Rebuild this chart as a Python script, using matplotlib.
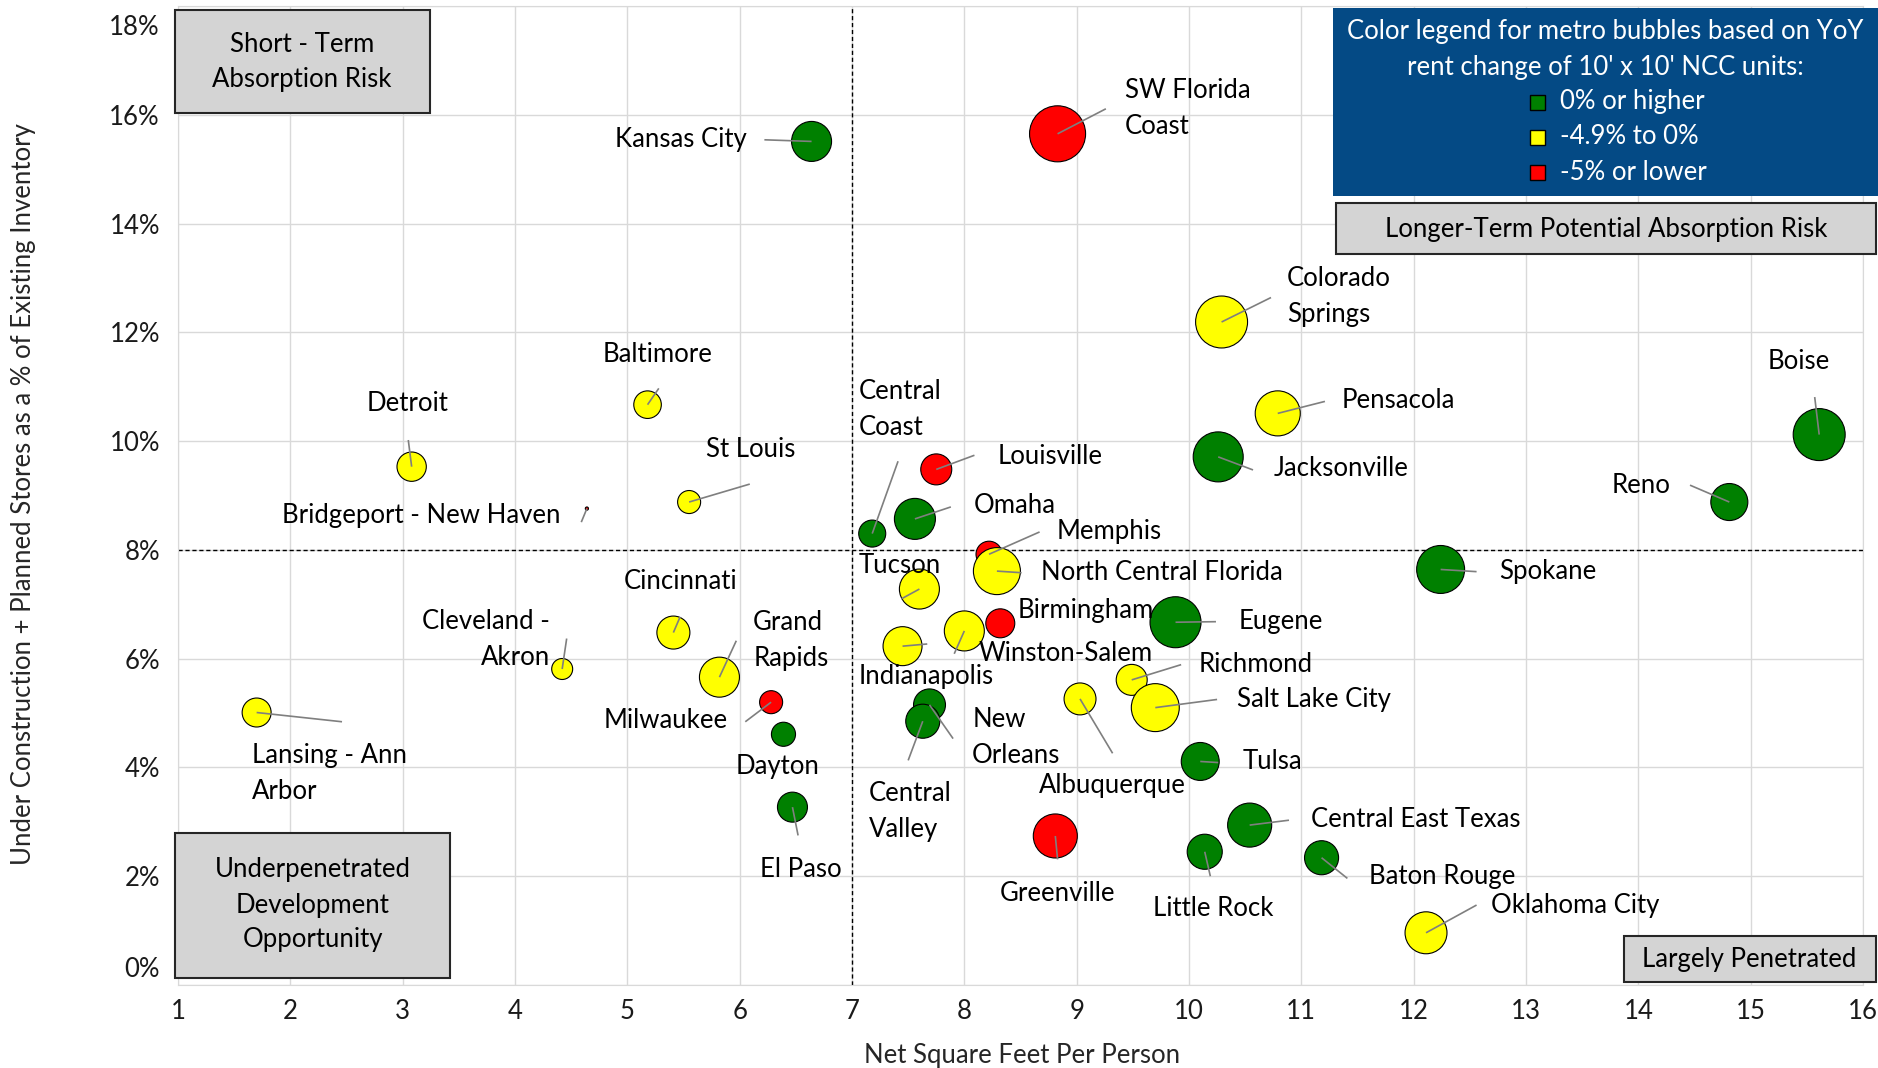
import matplotlib
matplotlib.use("Agg")
import matplotlib.pyplot as plt
from matplotlib.patches import Rectangle
from matplotlib.transforms import ScaledTranslation

# ---- data ----
metros = ["Kansas City", "SW Florida Coast", "Colorado Springs", "Pensacola", "Jacksonville",
          "Boise", "Reno", "Spokane", "Detroit", "Baltimore", "St Louis", "Bridgeport - New Haven",
          "Central Coast", "Omaha", "Louisville", "Memphis", "North Central Florida", "Tucson",
          "Birmingham", "Winston-Salem", "Indianapolis", "Eugene", "Richmond", "Salt Lake City",
          "Albuquerque", "New Orleans", "Central Valley", "Tulsa", "Central East Texas",
          "Little Rock", "Baton Rouge", "Greenville", "Oklahoma City", "Cincinnati",
          "Grand Rapids", "Cleveland - Akron", "Lansing - Ann Arbor", "Milwaukee", "Dayton", "El Paso"]
net_sqft = [6.64, 8.83, 10.29, 10.79, 10.26, 15.61, 14.81, 12.24, 3.08, 5.18, 5.55, 4.64,
            7.18, 7.56, 7.75, 8.22, 8.29, 7.60, 8.32, 8.00, 7.45, 9.88, 9.49, 9.70,
            9.03, 7.69, 7.63, 10.10, 10.54, 10.14, 11.18, 8.81, 12.11, 5.41,
            5.82, 4.42, 1.70, 6.28, 6.39, 6.47]
pipeline_pct = [15.51, 15.65, 12.19, 10.51, 9.71, 10.12, 8.88, 7.64, 9.53, 10.67, 8.88, 8.76,
                8.30, 8.57, 9.48, 7.92, 7.61, 7.28, 6.65, 6.51, 6.23, 6.67, 5.61, 5.10,
                5.26, 5.15, 4.85, 4.11, 2.94, 2.45, 2.34, 2.74, 0.96, 6.48,
                5.66, 5.81, 5.01, 5.20, 4.61, 3.27]
bubble = [16.0, 31.4, 27.0, 20.3, 25.0, 27.0, 13.7, 23.0, 8.6, 7.6, 5.3, 0.1,
          7.3, 16.8, 9.6, 6.8, 22.1, 16.0, 8.4, 16.0, 15.2, 26.0, 9.6, 23.0,
          10.2, 10.2, 11.6, 14.4, 19.4, 12.3, 11.6, 19.4, 17.6, 10.9,
          16.0, 4.4, 8.4, 5.3, 5.8, 9.0]
rent_band = ["up", "down", "flat", "flat", "up", "up", "up", "up", "flat", "flat", "flat", "down",
             "up", "up", "down", "down", "flat", "flat", "down", "flat", "flat", "up", "flat", "flat",
             "flat", "up", "up", "up", "up", "up", "up", "down", "flat", "flat",
             "flat", "flat", "flat", "down", "up", "up"]

band_labels = ["0% or higher", "-4.9% to 0%", "-5% or lower"]
band_colors = {"up": "#008000", "flat": "#FFFF00", "down": "#FF0000"}

# label placement: text x, text y, alignment, leader start (x, y) or None
label_pos = {
    "Kansas City": (6.06, 15.54, "right", (6.22, 15.54)),
    "SW Florida Coast": (9.43, 16.11, "left", (9.26, 16.11)),
    "Colorado Springs": (10.87, 12.66, "left", (10.73, 12.64)),
    "Pensacola": (11.36, 10.75, "left", (11.21, 10.73)),
    "Jacksonville": (10.75, 9.49, "left", (10.57, 9.47)),
    "Boise": (15.43, 11.47, "center", (15.57, 10.81)),
    "Reno": (14.29, 9.19, "right", (14.46, 9.19)),
    "Spokane": (12.76, 7.60, "left", (12.56, 7.60)),
    "Louisville": (8.30, 9.71, "left", (8.09, 9.74)),
    "Omaha": (8.08, 8.81, "left", (7.88, 8.79)),
    "Central Coast": (7.06, 10.59, "left", (7.41, 9.63)),
    "Memphis": (8.82, 8.33, "left", (8.67, 8.33)),
    "North Central Florida": (8.68, 7.58, "left", (8.51, 7.58)),
    "Tucson": (7.06, 7.71, "left", (7.44, 7.10)),
    "Birmingham": (8.47, 6.88, "left", None),
    "Winston-Salem": (8.13, 6.09, "left", (7.91, 6.09)),
    "Indianapolis": (7.06, 5.67, "left", (7.67, 6.27)),
    "Eugene": (10.44, 6.68, "left", (10.24, 6.68)),
    "Richmond": (10.09, 5.89, "left", (9.93, 5.89)),
    "Salt Lake City": (10.43, 5.25, "left", (10.25, 5.25)),
    "Albuquerque": (9.32, 3.67, "center", (9.32, 4.26)),
    "New Orleans": (8.07, 4.55, "left", (7.90, 4.53)),
    "Central Valley": (7.15, 3.19, "left", (7.50, 4.13)),
    "Tulsa": (10.48, 4.11, "left", (10.26, 4.09)),
    "Central East Texas": (11.09, 3.05, "left", (10.89, 3.03)),
    "Little Rock": (9.68, 1.41, "left", (10.19, 2.00)),
    "Baton Rouge": (11.60, 2.00, "left", (11.41, 1.96)),
    "Greenville": (8.83, 1.69, "center", (8.83, 2.31)),
    "Oklahoma City": (12.69, 1.47, "left", (12.56, 1.47)),
    "Detroit": (3.04, 10.70, "center", (3.05, 10.02)),
    "Baltimore": (5.27, 11.60, "center", (5.28, 10.97)),
    "St Louis": (6.10, 9.85, "center", (6.09, 9.21)),
    "Bridgeport - New Haven": (1.93, 8.64, "left", (4.59, 8.51)),
    "Cincinnati": (5.47, 7.41, "center", (5.47, 6.77)),
    "Grand Rapids": (6.12, 6.33, "left", (5.97, 6.33)),
    "Cleveland - Akron": (4.31, 6.35, "right", (4.46, 6.37)),
    "Lansing - Ann Arbor": (1.66, 3.89, "left", (2.46, 4.84)),
    "Milwaukee": (5.89, 4.86, "right", (6.05, 4.84)),
    "Dayton": (6.34, 4.02, "center", None),
    "El Paso": (6.54, 2.13, "center", (6.52, 2.75)),
}
# where the reference breaks a label over two lines
wrapped = {"SW Florida Coast": "SW Florida\nCoast", "Colorado Springs": "Colorado\nSprings",
           "Central Coast": "Central\nCoast", "New Orleans": "New\nOrleans",
           "Central Valley": "Central\nValley", "Grand Rapids": "Grand\nRapids",
           "Cleveland - Akron": "Cleveland -\nAkron", "Lansing - Ann Arbor": "Lansing - Ann\nArbor"}

plt.rcParams['font.family'] = ['Lato', 'DejaVu Sans']
FS = 18.5
W, H = 1878, 1068

fig = plt.figure(figsize=(W / 100, H / 100), dpi=100)
ax = fig.add_axes([178 / W, 1 - 985 / H, (1863 - 178) / W, (985 - 6) / H])
ax.set_xlim(1, 16)
ax.set_ylim(0, 18)
ax.set_xticks(range(1, 17))
ax.set_yticks(range(0, 19, 2))
ax.set_yticklabels([f"{v}%" for v in range(0, 19, 2)])
ax.grid(True, color='#D9D9D9', lw=1)
ax.set_axisbelow(True)
for sp in ax.spines.values():
    sp.set_color('#D9D9D9')
ax.tick_params(length=0, labelsize=FS, colors='#1A1A1A')
ax.tick_params(axis='y', pad=13)
ax.tick_params(axis='x', pad=10)

# Excel keeps the end labels inside the chart area
yt = ax.yaxis.get_major_ticks()
yt[0].label1.set_transform(yt[0].label1.get_transform() + ScaledTranslation(0, 18 / 100, fig.dpi_scale_trans))
yt[-1].label1.set_transform(yt[-1].label1.get_transform() + ScaledTranslation(0, -19 / 100, fig.dpi_scale_trans))

ax.axvline(7, color='black', lw=1, ls=(0, (3, 2)), zorder=2)
ax.axhline(8, color='black', lw=1, ls=(0, (3, 2)), zorder=2)

# bubbles: value ~ area
ax.scatter(net_sqft, pipeline_pct, s=[b * 51.84 for b in bubble],
           c=[band_colors[r] for r in rent_band], edgecolors='black', linewidths=0.8, zorder=3)

for name, x, y in zip(metros, net_sqft, pipeline_pct):
    tx, ty, ha, lead = label_pos[name]
    if lead is not None:
        ax.plot([lead[0], x], [lead[1], y], color='#7F7F7F', lw=1.2, zorder=4, solid_capstyle='butt')
    ax.text(tx, ty, wrapped.get(name, name), ha=ha, va='center', multialignment=ha,
            fontsize=FS, linespacing=1.55, color='black', zorder=6)


def box(x0, y0, x1, y1, face, edge='#262626', lw=1.5):
    # corners in canvas pixels, measured from the top-left
    fig.add_artist(Rectangle((x0 / W, 1 - y1 / H), (x1 - x0) / W, (y1 - y0) / H,
                             transform=fig.transFigure, facecolor=face, edgecolor=edge,
                             lw=lw, zorder=5))


def ftext(x, y, s, **kw):
    fig.text(x / W, 1 - y / H, s, fontsize=FS, ha='center', va='center', zorder=6, **kw)


box(175, 10, 430, 113, '#D4D4D4')
ftext(302, 44, "Short - Term")
ftext(302, 79, "Absorption Risk")

box(175, 833, 450, 978, '#D4D4D4')
ftext(313, 870, "Underpenetrated")
ftext(313, 905, "Development")
ftext(313, 940, "Opportunity")

box(1624, 936, 1876, 982, '#D4D4D4')
ftext(1749, 959, "Largely Penetrated")

box(1336, 203, 1876, 254, '#D4D4D4')
ftext(1606, 229, "Longer-Term Potential Absorption Risk")

# colour legend panel
box(1333, 8, 1878, 196, '#044A85', edge='#044A85', lw=0)
ftext(1605, 32, "Color legend for metro bubbles based on YoY", color='white')
ftext(1605, 67, "rent change of 10' x 10' NCC units:", color='white')
for i, (band, lab) in enumerate(zip(["up", "flat", "down"], band_labels)):
    yc = 102 + 35 * i
    box(1530, yc - 7, 1545, yc + 8, band_colors[band], edge='black', lw=1)
    fig.text(1560 / W, 1 - yc / H, lab, fontsize=FS, ha='left', va='center', color='white', zorder=6)

fig.text(24 / W, 1 - 494 / H, "Under Construction + Planned Stores as a % of Existing Inventory",
         rotation=90, ha='center', va='center', fontsize=FS, color='#262626')
fig.text(1022 / W, 1 - 1063 / H, "Net Square Feet Per Person", ha='center', va='baseline',
         fontsize=FS, color='#262626')

fig.savefig("out.png", dpi=100)
